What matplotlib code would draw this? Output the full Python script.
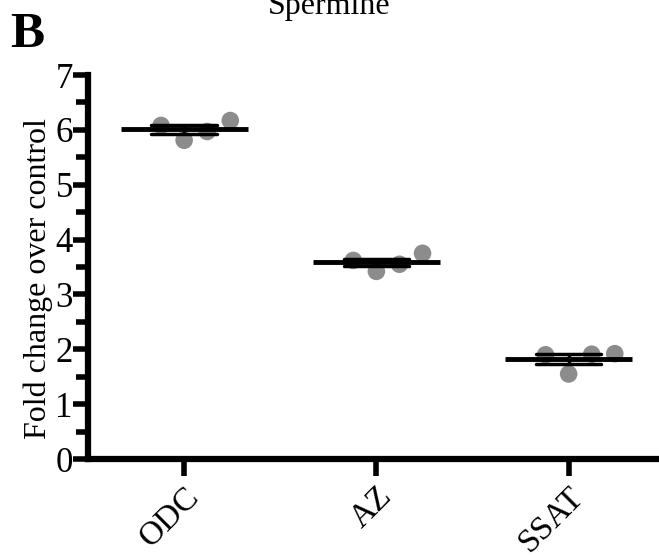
import numpy as np
import matplotlib
matplotlib.use("Agg")
import matplotlib.pyplot as plt
from matplotlib.ticker import MultipleLocator

plt.rcParams["font.family"] = ["Liberation Serif", "DejaVu Serif"]

# ── data ────────────────────────────────────────────
categories = ["ODC", "AZ", "SSAT"]
odc_vals = [6.08, 5.81, 5.97, 6.17]
az_vals = [3.62, 3.42, 3.55, 3.75]
ssat_vals = [1.90, 1.55, 1.91, 1.92]
jitter = [-0.12, 0.0, 0.12, 0.24]
title = "Spermine"
ylabel = "Fold change over control"

groups = [odc_vals, az_vals, ssat_vals]

fig = plt.figure(figsize=(6.59, 5.55), dpi=100)
ax = fig.add_axes([88 / 659, 96 / 555, 1 - 88 / 659, 384 / 555])

for i, vals in enumerate(groups):
    vals = np.array(vals)
    mean = vals.mean()
    sem = vals.std(ddof=1) / np.sqrt(len(vals))
    ax.scatter([i + j for j in jitter], vals, s=160, color="#8c8c8c",
               edgecolors="none", zorder=2)
    ax.hlines(mean, i - 0.33, i + 0.33, color="black", linewidth=3.5, zorder=3)
    ax.errorbar(i, mean, yerr=sem, fmt="none", ecolor="black", elinewidth=2.5,
                capsize=0, zorder=3)
    ax.hlines([mean - sem, mean + sem], i - 0.17, i + 0.17, color="black",
              linewidth=2.5, capstyle="round", zorder=3)

ax.set_xlim(-0.5, 2.47)
ax.set_ylim(0, 7)
ax.set_xticks(range(len(categories)))
ax.set_xticklabels(categories, rotation=45, ha="right", rotation_mode="anchor",
                   fontsize=24)
ax.yaxis.set_major_locator(MultipleLocator(1))
ax.yaxis.set_minor_locator(MultipleLocator(0.5))
ax.tick_params(axis="y", which="major", labelsize=25, width=4, length=11, pad=0)
ax.tick_params(axis="y", which="minor", width=4, length=9)
ax.tick_params(axis="x", width=4, length=12, pad=4)
ax.set_ylabel(ylabel, fontsize=23, labelpad=2)
ax.yaxis.label.set_y(0.47)

for side in ["top", "right"]:
    ax.spines[side].set_visible(False)
for side in ["left", "bottom"]:
    ax.spines[side].set_linewidth(4.5)
    ax.spines[side].set_capstyle("projecting")

fig.text(0.5, 1 - 14 / 555, title, ha="center", va="baseline", fontsize=23)
fig.text(10 / 659, 1 - 47 / 555, "B", ha="left", va="baseline", fontsize=37,
         fontweight="bold")

fig.savefig("out.png", dpi=100)
